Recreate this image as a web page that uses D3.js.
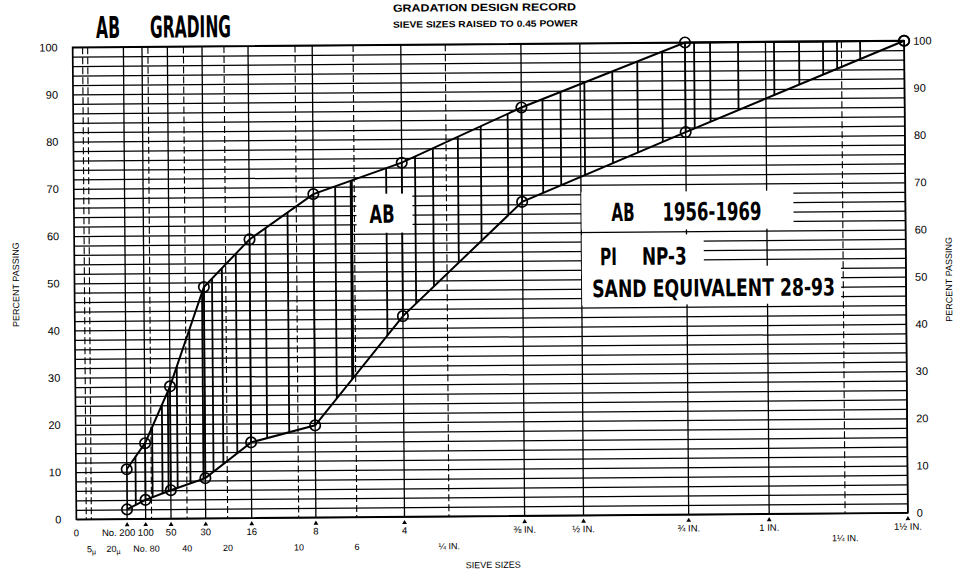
<!DOCTYPE html>
<html>
<head>
<meta charset="utf-8">
<script src="https://cdn.jsdelivr.net/npm/d3@7"></script>
<style>
body { margin: 0; background: #fff; }
svg { display: block; }
text { font-family: "Liberation Sans", Arial, sans-serif; fill: #000; }
.cond { font-family: "Liberation Sans Narrow", "DejaVu Sans Condensed", sans-serif; font-weight: bold; font-stretch: condensed; }
</style>
</head>
<body>
<div id="chart"></div>
<script>
// sieve openings (mm) where the grading limits are plotted
const sieves = [0.075, 0.15, 0.3, 0.6, 1.18, 2.36, 4.75, 9.5, 19, 37.5];
const upperLimit = [10.5, 16, 28, 49, 59, 68.5, 75, 86.5, 100, 100];
const lowerLimit = [2, 4, 6, 8.5, 16, 19.5, 42.5, 66.5, 81, 100];

// bottom axis, first row
const mainSieves = [0, 0.075, 0.15, 0.3, 0.6, 1.18, 2.36, 4.75, 9.5, 12.5, 19, 25, 37.5];
const mainLabels = ["0", "No. 200", "100", "50", "30", "16", "8", "4", "⅜ IN.", "½ IN.", "¾ IN.", "1 IN.", "1½ IN."];
// bottom axis, second row
const minorSieves = [0.005, 0.02, 0.18, 0.425, 0.85, 2.0, 3.35, 6.3, 31.5];
const minorLabels = ["5µ", "20µ", "No. 80", "40", "20", "10", "6", "¼ IN.", "1¼ IN."];
// dashed vertical grid lines
const dashedSieves = [0.002, 0.005, 0.18, 0.425, 0.85, 2.0, 3.35, 6.3, 31.5];

const percentTicks = [0, 10, 20, 30, 40, 50, 60, 70, 80, 90, 100];

// hand drawn hatch lines between the limits (sieve size ^ 0.45)
const hatchPowered = [0.366, 0.470, 0.531, 0.568, 0.624, 0.703, 0.783, 0.845, 0.906, 0.992,
  1.176, 1.312, 1.606, 1.705, 1.920, 2.098, 2.208, 2.362, 2.503, 2.669, 2.884, 2.995,
  3.142, 3.314, 3.468, 3.621, 3.818, 3.916, 4.088, 4.309, 4.463, 4.610, 4.696, 4.838];

const W = 959, H = 573;
const plotL = 74.5, plotR = 906, plotT = 44, plotB = 516;

const svg = d3.select("#chart").append("svg")
    .attr("width", W)
    .attr("height", H);

// the scanned sheet is slightly rotated
const g = svg.append("g").attr("transform", "rotate(-0.45,490,280)");

const x = d3.scaleLinear().domain([0, Math.pow(37.5, 0.45)]).range([plotL, plotR]);
const sx = d => x(Math.pow(d, 0.45));
const y = d3.scaleLinear().domain([0, 100]).range([plotB, plotT]);

// horizontal grid every 2 percent
g.append("g")
    .attr("transform", "translate(" + plotL + ",0)")
    .call(d3.axisLeft(y).tickValues(d3.range(0, 101, 2)).tickSize(-(plotR - plotL)).tickFormat(""))
    .call(a => a.select(".domain").remove())
    .selectAll("line")
    .attr("stroke", "#000")
    .attr("stroke-width", 1.25);

// vertical grid
g.append("g").selectAll("line")
    .data(mainSieves.slice(1))
    .enter().append("line")
    .attr("x1", d => sx(d)).attr("x2", d => sx(d))
    .attr("y1", plotT).attr("y2", plotB)
    .attr("stroke", "#000")
    .attr("stroke-width", 1.3);

g.append("g").selectAll("line")
    .data(dashedSieves)
    .enter().append("line")
    .attr("x1", d => sx(d)).attr("x2", d => sx(d))
    .attr("y1", plotT).attr("y2", plotB)
    .attr("stroke", "#000")
    .attr("stroke-width", 1.1)
    .attr("stroke-dasharray", "7,3");

// hatch between the limits
const band = d3.area()
    .x((d, i) => sx(sieves[i]))
    .y0((d, i) => y(lowerLimit[i]))
    .y1((d, i) => y(upperLimit[i]));

g.append("clipPath").attr("id", "band")
    .append("path")
    .attr("d", band(sieves));

const hatchAll = hatchPowered.concat(sieves.map(d => Math.pow(d, 0.45)));
g.append("g")
    .attr("clip-path", "url(#band)")
    .selectAll("line")
    .data(hatchAll)
    .enter().append("line")
    .attr("x1", d => x(d)).attr("x2", d => x(d))
    .attr("y1", y(0)).attr("y2", y(100))
    .attr("stroke", "#000")
    .attr("stroke-width", (d, i) => i === 13 ? 3 : 1.8);

// frame
g.append("rect")
    .attr("x", plotL).attr("y", plotT)
    .attr("width", plotR - plotL).attr("height", plotB - plotT)
    .attr("fill", "none")
    .attr("stroke", "#000")
    .attr("stroke-width", 1.7);

// grading limit lines and points
const limitLine = d3.line()
    .x((d, i) => sx(sieves[i]))
    .y(d => y(d));

[upperLimit, lowerLimit].forEach(series => {
    g.append("path")
        .attr("d", limitLine(series))
        .attr("fill", "none")
        .attr("stroke", "#000")
        .attr("stroke-width", 2);
    g.append("g").selectAll("circle")
        .data(series)
        .enter().append("circle")
        .attr("cx", (d, i) => sx(sieves[i]))
        .attr("cy", d => y(d))
        .attr("r", 5.2)
        .attr("fill", "none")
        .attr("stroke", "#000")
        .attr("stroke-width", 1.7);
});

// percent axes
g.append("g")
    .attr("transform", "translate(" + plotL + ",0)")
    .call(d3.axisLeft(y).tickValues(percentTicks).tickSize(0).tickPadding(15))
    .call(a => a.select(".domain").remove())
    .selectAll("text")
    .style("font-size", "11px");

g.append("g")
    .attr("transform", "translate(" + plotR + ",0)")
    .call(d3.axisRight(y).tickValues(percentTicks).tickSize(0).tickPadding(9))
    .call(a => a.select(".domain").remove())
    .selectAll("text")
    .style("font-size", "11px");

g.append("text")
    .attr("transform", "translate(19,281) rotate(-90)")
    .attr("text-anchor", "middle")
    .style("font-size", "9px")
    .text("PERCENT PASSING");

g.append("text")
    .attr("transform", "translate(952,283) rotate(-90)")
    .attr("text-anchor", "middle")
    .style("font-size", "9px")
    .text("PERCENT PASSING");

// sieve axis, first row
const row1 = g.append("g");
mainSieves.forEach((d, i) => {
    const px = sx(d);
    const lab = mainLabels[i];
    if (i > 0) {
        row1.append("path")
            .attr("d", d3.symbol(d3.symbolTriangle, 10)())
            .attr("transform", "translate(" + px + "," + (plotB + 6) + ")")
            .attr("fill", "#000");
    }
    row1.append("text")
        .attr("x", lab.startsWith("No.") ? px + 8 : px)
        .attr("y", plotB + 17)
        .attr("text-anchor", lab.startsWith("No.") ? "end" : "middle")
        .style("font-size", "9.5px")
        .text(lab);
});

// sieve axis, second row
const row2 = g.append("g");
minorSieves.forEach((d, i) => {
    const px = sx(d);
    const lab = minorLabels[i];
    const t = row2.append("text")
        .attr("y", lab.includes("1¼") ? plotB + 28 : plotB + 33)
        .style("font-size", "9px");
    if (lab.endsWith("µ")) {
        t.attr("x", px + (lab === "20µ" ? 9 : 0)).attr("text-anchor", "middle");
        t.append("tspan").text(lab.slice(0, -1));
        t.append("tspan").attr("dy", 2).style("font-size", "7px").text("µ");
    } else {
        t.attr("x", lab.startsWith("No.") ? px + 8 : px)
            .attr("text-anchor", lab.startsWith("No.") ? "end" : "middle")
            .text(lab);
    }
});

g.append("text")
    .attr("x", 491).attr("y", 568)
    .attr("text-anchor", "middle")
    .style("font-size", "9px")
    .text("SIEVE SIZES");

// titles
g.append("text")
    .attr("x", 395).attr("y", 11)
    .attr("textLength", 183).attr("lengthAdjust", "spacingAndGlyphs")
    .style("font-size", "10.5px").style("font-weight", "bold")
    .text("GRADATION DESIGN RECORD");

g.append("text")
    .attr("x", 395).attr("y", 27)
    .attr("textLength", 185).attr("lengthAdjust", "spacingAndGlyphs")
    .style("font-size", "9px").style("font-weight", "bold")
    .text("SIEVE SIZES RAISED TO 0.45 POWER");

function bigText(str, x0, base, len, size) {
    g.append("text")
        .attr("class", "cond")
        .attr("x", x0).attr("y", base)
        .attr("textLength", len).attr("lengthAdjust", "spacingAndGlyphs")
        .style("font-size", size + "px")
        .text(str);
}

bigText("AB", 98, 35, 24, 30);
bigText("GRADING", 152, 35, 81, 30);

// label boxes
const boxes = g.append("g");
[[357, 193, 56, 39], [582, 193, 212, 38], [582, 236, 122, 40], [582, 268, 259, 38]].forEach(b => {
    boxes.append("rect")
        .attr("x", b[0]).attr("y", b[1])
        .attr("width", b[2]).attr("height", b[3])
        .attr("fill", "#fff");
});

bigText("AB", 370, 222, 25, 25);
bigText("AB", 612, 222, 23, 25);
bigText("1956-1969", 663, 222, 99, 25);
bigText("PI", 600, 266, 17, 24);
bigText("NP-3", 642, 266, 45, 24);
bigText("SAND EQUIVALENT 28-93", 592, 298, 243, 24);
</script>
</body>
</html>
